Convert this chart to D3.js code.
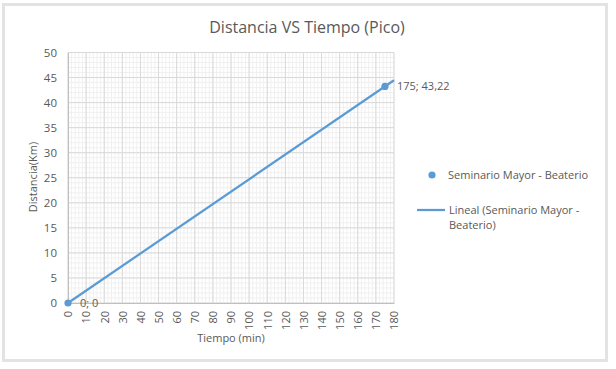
<!DOCTYPE html>
<html><head><meta charset="utf-8">
<script src="https://cdn.jsdelivr.net/npm/d3@7"></script>
<style>body{margin:0;background:#fff}svg{display:block}text{font-family:"Open Sans","Noto Sans",sans-serif;fill:#595959}</style>
</head><body><svg id="c" width="616" height="369"></svg>
<script>
const tiempo = [0, 175];
const distancia = [0, 43.22];
const pointLabels = ["0; 0", "175; 43,22"];
const xTicks = [0,10,20,30,40,50,60,70,80,90,100,110,120,130,140,150,160,170,180];
const yTicks = [0,5,10,15,20,25,30,35,40,45,50];
const seriesName = "Seminario Mayor - Beaterio";
const trendNames = ["Lineal (Seminario Mayor -", "Beaterio)"];
const title = "Distancia VS Tiempo (Pico)";
const trendEnd = 180;

const svg = d3.select("#c");
svg.append("rect").attr("x",3.5).attr("y",4.5).attr("width",603).attr("height",356)
  .attr("fill","#fff").attr("stroke","#e3e3e3").attr("stroke-width",3);

const x = d3.scaleLinear().domain([0,180]).range([68,394]);
const y = d3.scaleLinear().domain([0,50]).range([303,52.5]);

// minor grid
const g = svg.append("g");
g.selectAll(".mx").data(d3.range(0,181,2)).enter().append("line")
  .attr("x1",d=>x(d)).attr("x2",d=>x(d)).attr("y1",y(0)).attr("y2",y(50))
  .attr("stroke","#f0f0f0").attr("stroke-width",1);
g.selectAll(".my").data(d3.range(0,51,1)).enter().append("line")
  .attr("y1",d=>y(d)).attr("y2",d=>y(d)).attr("x1",x(0)).attr("x2",x(180))
  .attr("stroke","#f0f0f0").attr("stroke-width",1);
// major grid
g.selectAll(".Mx").data(xTicks).enter().append("line")
  .attr("x1",d=>x(d)).attr("x2",d=>x(d)).attr("y1",y(0)).attr("y2",y(50))
  .attr("stroke","#d9d9d9").attr("stroke-width",1);
g.selectAll(".My").data(yTicks).enter().append("line")
  .attr("y1",d=>y(d)).attr("y2",d=>y(d)).attr("x1",x(0)).attr("x2",x(180))
  .attr("stroke","#d9d9d9").attr("stroke-width",1);

// axes
const yAxis = svg.append("g").attr("transform",`translate(${x(0)},0)`)
  .call(d3.axisLeft(y).tickValues(yTicks).tickSize(0).tickPadding(11));
yAxis.select(".domain").attr("stroke","#bfbfbf");
yAxis.selectAll("text").style("font-size","11.5px").attr("fill","#595959");

const xAxis = svg.append("g").attr("transform",`translate(0,${y(0)})`)
  .call(d3.axisBottom(x).tickValues(xTicks).tickSize(0));
xAxis.select(".domain").attr("stroke","#bfbfbf");
xAxis.selectAll("text").style("font-size","11px").attr("fill","#595959")
  .attr("transform","rotate(-90)").attr("text-anchor","end")
  .attr("x",-8).attr("y",0).attr("dy","0.35em");

// trendline (least squares through data)
const n = tiempo.length;
const mx = d3.mean(tiempo), my = d3.mean(distancia);
let sxy=0,sxx=0;
for(let i=0;i<n;i++){sxy+=(tiempo[i]-mx)*(distancia[i]-my);sxx+=(tiempo[i]-mx)**2;}
const slope = sxy/sxx, icpt = my - slope*mx;
const tx = [d3.min(tiempo), trendEnd];
svg.append("line").attr("x1",x(tx[0])).attr("y1",y(icpt+slope*tx[0]))
  .attr("x2",x(tx[1])).attr("y2",y(icpt+slope*tx[1]))
  .attr("stroke","#5b9bd5").attr("stroke-width",2.25);

// points
svg.selectAll(".pt").data(tiempo).enter().append("circle")
  .attr("cx",d=>x(d)).attr("cy",(d,i)=>y(distancia[i])).attr("r",3.6).attr("fill","#5b9bd5");
svg.selectAll(".pl").data(tiempo).enter().append("text")
  .attr("x",d=>x(d)+12).attr("y",(d,i)=>y(distancia[i])+4)
  .style("font-size","11px").attr("fill","#404040").text((d,i)=>pointLabels[i]);

// title
svg.append("text").attr("x",307).attr("y",33).attr("text-anchor","middle")
  .style("font-size","16px").text(title);
// axis titles
svg.append("text").attr("transform","translate(37,177) rotate(-90)").attr("text-anchor","middle")
  .style("font-size","11px").text("Distancia(Km)");
svg.append("text").attr("x",231).attr("y",342).attr("text-anchor","middle")
  .style("font-size","11px").text("Tiempo (min)");

// legend
svg.append("circle").attr("cx",432).attr("cy",175).attr("r",3.6).attr("fill","#5b9bd5");
svg.append("text").attr("x",448).attr("y",178.5).style("font-size","11px").text(seriesName);
svg.append("line").attr("x1",417).attr("x2",445).attr("y1",210).attr("y2",210)
  .attr("stroke","#5b9bd5").attr("stroke-width",2.25);
svg.selectAll(".lt").data(trendNames).enter().append("text")
  .attr("x",449).attr("y",(d,i)=>213.5+i*15).style("font-size","11px").text(d=>d);
</script></body></html>
